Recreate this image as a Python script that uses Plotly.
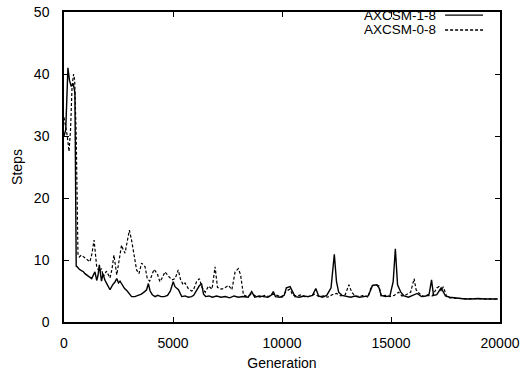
import plotly.graph_objects as go

# AXCSM-1-8 (solid)
gen_solid = [0, 80, 180, 250, 330, 420, 500, 560, 610, 700, 800, 890, 960, 1040, 1150, 1270,
             1350, 1420, 1500, 1560, 1620, 1720, 1790, 1870, 1960, 2110, 2230, 2330, 2420, 2500,
             2570, 2680, 2780, 2900, 3000, 3100, 3250, 3400, 3550, 3700, 3790, 3870, 3950, 4050,
             4180, 4300, 4450, 4600, 4750, 4880, 5010, 5090, 5250, 5400, 5550, 5700, 5850, 5950,
             6080, 6200, 6310, 6400, 6500, 6650, 6800, 7000, 7200, 7400, 7600, 7800, 8000, 8200,
             8450, 8610, 8750, 8950, 9150, 9350, 9500, 9600, 9700, 9900, 10100, 10200, 10370,
             10500, 10600, 10800, 11000, 11200, 11400, 11550, 11680, 11850, 12050, 12250, 12400,
             12500, 12600, 12750, 12950, 13150, 13350, 13550, 13750, 13950, 14050, 14150, 14350,
             14450, 14550, 14750, 14950, 15100, 15200, 15300, 15450, 15600, 15800, 16000, 16200,
             16400, 16600, 16750, 16860, 16950, 17100, 17300, 17500, 17700, 17900, 18100, 18400,
             18700, 19000, 19300, 19600, 19900]
steps_solid = [30, 31, 41, 39, 38, 38.5, 37, 9, 8.9, 8.5, 8.3, 8.1, 7.8, 7.6, 7.3, 7.0,
               7.6, 8.1, 6.7, 7.5, 9.2, 6.6, 7.8, 6.8, 6.2, 5.2, 6.0, 6.4, 7.0, 6.3,
               6.6, 6.0, 5.4, 5.0, 4.6, 4.1, 4.1, 4.3, 4.5, 4.9, 5.2, 6.2, 5.0, 4.4,
               4.1, 4.3, 4.1, 4.1, 4.3, 5.0, 6.5, 5.7, 5.2, 4.1, 4.2, 4.0, 4.1, 4.3,
               5.2, 5.8, 6.2, 4.5, 4.1, 4.2, 4.0, 4.2, 4.0, 4.1, 3.9, 4.2, 4.0, 4.1,
               4.0, 4.9, 4.0, 4.2, 4.1, 4.0, 4.3, 4.9, 4.1, 4.0, 4.3, 5.5, 5.7,
               4.8, 4.1, 4.0, 4.2, 4.1, 4.3, 5.4, 4.2, 4.0, 4.3, 5.5, 10.9,
               6.5, 4.8, 4.3, 4.1, 4.0, 4.2, 4.0, 4.1, 4.2, 5.0, 5.9, 6.0,
               5.5, 4.3, 4.1, 4.2, 6.5, 11.8, 6.0, 4.8, 4.2, 4.0, 4.3, 4.6,
               4.1, 4.2, 4.5, 6.8, 4.3, 4.4, 5.5, 4.2, 4.0, 3.9, 3.8, 3.7,
               3.7, 3.8, 3.7, 3.7, 3.7]

# AXCSM-0-8 (dashed)
gen_dashed = [0, 80, 150, 230, 300, 370, 440, 490, 560, 640, 700, 800, 960, 1100, 1190, 1280,
              1380, 1500, 1620, 1720, 1800, 1950, 2110, 2200, 2290, 2420, 2540, 2640, 2720, 2800,
              2900, 3000, 3100, 3180, 3330, 3440, 3560, 3720, 3820, 3930, 4130, 4280, 4400, 4520,
              4630, 4790, 4950, 5100, 5240, 5350, 5470, 5550, 5700, 5850, 5930, 6080, 6210, 6330,
              6480, 6630, 6790, 6930, 7040, 7200, 7320, 7550, 7700, 7850, 8000, 8100, 8230, 8400,
              8610, 8800, 9000, 9200, 9400, 9600, 9800, 10000, 10200, 10370, 10500, 10700, 10900,
              11100, 11300, 11500, 11700, 11900, 12100, 12300, 12500, 12700, 12900, 13000, 13070,
              13200, 13350, 13550, 13750, 13950, 14100, 14300, 14450, 14550, 14750, 14950, 15150,
              15350, 15500, 15700, 15900, 16060, 16150, 16300, 16500, 16700, 16900, 17100, 17200,
              17300, 17400, 17550, 17700, 18000, 18300, 18600, 18900, 19200, 19500, 19900]
steps_dashed = [33, 31.5, 30, 27.5, 31, 38, 40, 39, 30, 11, 10.5, 10.8, 10.4, 10, 9.7, 11,
                13.2, 8.9, 8.1, 8.6, 7.3, 8.2, 7.1, 8.5, 10.8, 7.6, 10.5, 12.4, 11.6, 11.1,
                13, 14.8, 13.2, 11.6, 8.4, 7.8, 9.5, 8.9, 7.0, 6.6, 8.5, 7.8, 6.5, 7.2,
                8.1, 7.4, 6.8, 7.0, 8.4, 6.8, 6.0, 6.3, 5.4, 5.0, 5.1, 6.5, 7.0, 5.6,
                4.8, 5.8, 5.3, 8.9, 5.6, 5.3, 5.4, 5.9, 5.2, 8.1, 8.6, 7.6, 4.4, 4.1,
                4.5, 4.2, 4.0, 4.3, 4.1, 4.5, 4.2, 4.0, 5.0, 5.3, 4.3, 4.2, 4.4,
                4.0, 4.2, 4.5, 4.1, 4.2, 4.0, 4.4, 4.6, 4.2, 4.4, 5.2, 6.0,
                4.8, 4.2, 4.1, 4.3, 4.0, 5.8, 6.0, 5.8, 4.2, 4.3, 4.1, 4.3,
                4.8, 4.2, 4.4, 4.8, 7.0, 5.2, 4.6, 4.1, 4.3, 4.2, 5.5, 5.7,
                5.0, 5.7, 4.1, 3.9, 3.8, 3.8, 3.7, 3.7, 3.8, 3.7, 3.7]

x_ticks = [0, 5000, 10000, 15000, 20000]
y_ticks = [0, 10, 20, 30, 40, 50]
series_names = ["AXCSM-1-8", "AXCSM-0-8"]

FONT = "Liberation Sans, Arial, sans-serif"
DASH = "3px,2px"

fig = go.Figure()
fig.add_trace(go.Scatter(x=gen_solid, y=steps_solid, mode="lines", name=series_names[0],
                         line=dict(color="black", width=1.4), showlegend=False))
fig.add_trace(go.Scatter(x=gen_dashed, y=steps_dashed, mode="lines", name=series_names[1],
                         line=dict(color="black", width=1.2, dash=DASH), showlegend=False))

# custom legend (text then line sample, as in the original)
legend_rows = [(0.99, "solid"), (0.942, DASH)]
for name, (yp, dash) in zip(series_names, legend_rows):
    fig.add_annotation(x=0.855, y=yp, xref="paper", yref="paper", text=name, showarrow=False,
                       xanchor="right", yanchor="middle", borderpad=0,
                       font=dict(family=FONT, size=13.5, color="black"))
    fig.add_shape(type="line", xref="paper", yref="paper", x0=0.874, x1=0.961, y0=yp, y1=yp,
                  line=dict(color="black", width=1.3, dash=dash))

axis_common = dict(showline=True, linecolor="black", linewidth=1.5, mirror="ticks",
                   ticks="inside", ticklen=5, tickwidth=1.2, tickcolor="black",
                   showgrid=False, zeroline=False, automargin=False,
                   tickfont=dict(family=FONT, size=14, color="black"))

fig.update_layout(
    width=532, height=372,
    margin=dict(l=64, r=32, t=12, b=50),
    paper_bgcolor="white", plot_bgcolor="white",
    font=dict(family=FONT, size=14, color="black"),
    xaxis=dict(range=[0, 20000], tickvals=x_ticks, ticktext=[str(v) for v in x_ticks],
               title=dict(text="Generation", standoff=9, font=dict(family=FONT, size=14)),
               ticklabelstandoff=7, **axis_common),
    yaxis=dict(range=[0, 50], tickvals=y_ticks, ticktext=[str(v) for v in y_ticks],
               title=dict(text="Steps", standoff=8, font=dict(family=FONT, size=14)),
               ticklabelstandoff=10, **axis_common),
)

fig.write_html("out.html")
